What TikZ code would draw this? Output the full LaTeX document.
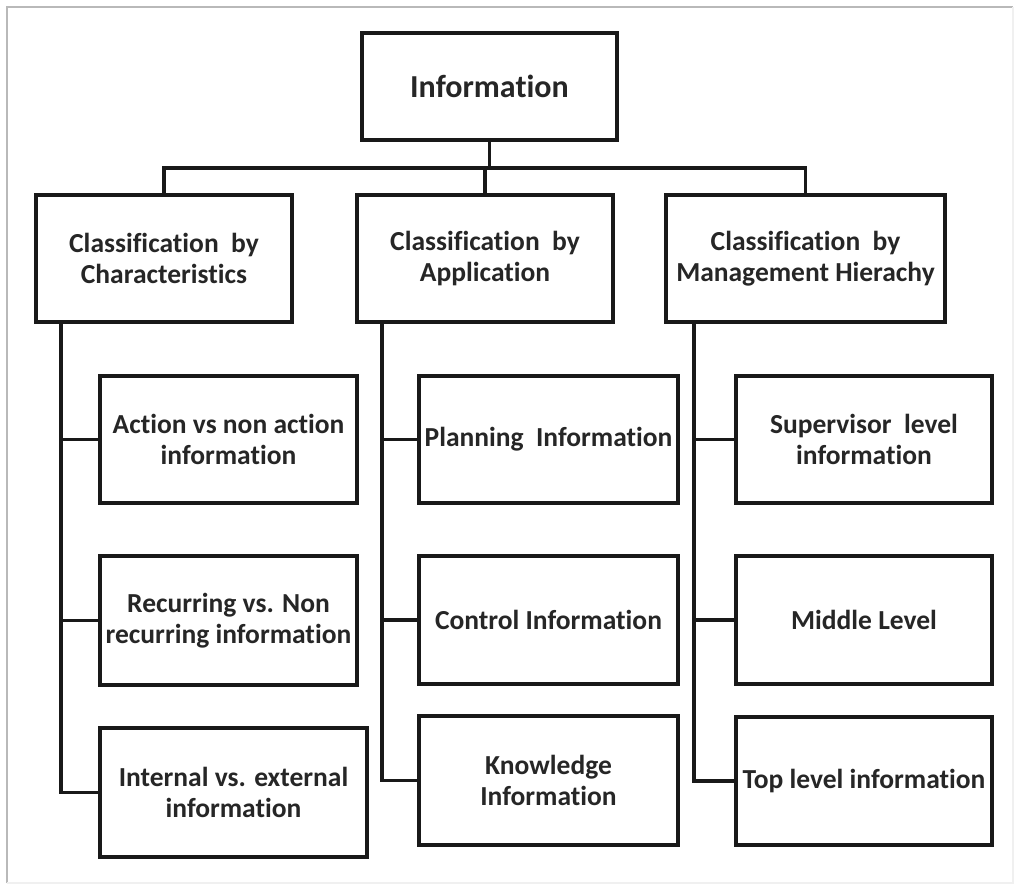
\documentclass[tikz,border=0pt]{standalone}
\usepackage{fontspec}
\setmainfont{Carlito}[Ligatures=NoCommon]
\begin{document}
\begin{tikzpicture}[x=1pt,y=-1pt,
  box/.style={draw=black!90, line width=3.8pt, align=center, inner sep=0pt,
    font=\fontsize{27.5}{30.5}\selectfont\bfseries, text=black!85},
  link/.style={draw=black!90, line width=3.6pt},
  frame/.style={line width=2pt}]
\useasboundingbox (0,0) rectangle (1014,884);
\fill[white] (0,0) rectangle (1014,884);
\draw[frame, draw=gray!55] (7,883) -- (7,7) -- (1013,7);
\draw[frame, draw=gray!12] (1013,7) -- (1013,883) -- (7,883);

\node[box, minimum width=255, minimum height=107, font=\fontsize{32}{36}\selectfont\bfseries] (info) at (489.5,86.5) {Information};

\node[box, minimum width=256, minimum height=127] (c1) at (164,258.5) {Classification~ by\\Characteristics};
\node[box, minimum width=256, minimum height=127] (c2) at (485,258.5) {Classification~ by\\Application};
\node[box, minimum width=279, minimum height=127] (c3) at (805.5,258.5) {Classification~ by\\Management Hierachy};

\node[box, minimum width=257, minimum height=127] (a1) at (228.5,439.5) {Action vs non action\\information};
\node[box, minimum width=257, minimum height=129] (a2) at (228.5,620.5) {Recurring vs. Non\\recurring information};
\node[box, minimum width=267, minimum height=129] (a3) at (233.5,792.5) {Internal vs. external\\information};

\node[box, minimum width=259, minimum height=127] (b1) at (548.5,439.5) {Planning~ Information};
\node[box, minimum width=259, minimum height=128] (b2) at (548.5,620) {Control Information};
\node[box, minimum width=259, minimum height=129] (b3) at (548.5,780.5) {Knowledge\\Information};

\node[box, minimum width=256, minimum height=127] (d1) at (864,439.5) {Supervisor~ level\\information};
\node[box, minimum width=256, minimum height=128] (d2) at (864,620) {Middle Level};
\node[box, minimum width=256, minimum height=128] (d3) at (864,781) {Top level information};

\coordinate (bus) at (0,168);
\coordinate (v1) at (61,0);
\coordinate (v2) at (382,0);
\coordinate (v3) at (694,0);

\draw[link] (info.south) -- (info.south |- bus);
\draw[link] (c1.north) |- (info.south |- bus) -| (c3.north);
\draw[link] (c2.north) -- (c2.north |- bus);

\draw[link] (c1.south -| v1) |- (a3.west);
\draw[link] (v1 |- a1.west) -- (a1.west);
\draw[link] (v1 |- a2.west) -- (a2.west);

\draw[link] (c2.south -| v2) |- (b3.west);
\draw[link] (v2 |- b1.west) -- (b1.west);
\draw[link] (v2 |- b2.west) -- (b2.west);

\draw[link] (c3.south -| v3) |- (d3.west);
\draw[link] (v3 |- d1.west) -- (d1.west);
\draw[link] (v3 |- d2.west) -- (d2.west);
\end{tikzpicture}
\end{document}
